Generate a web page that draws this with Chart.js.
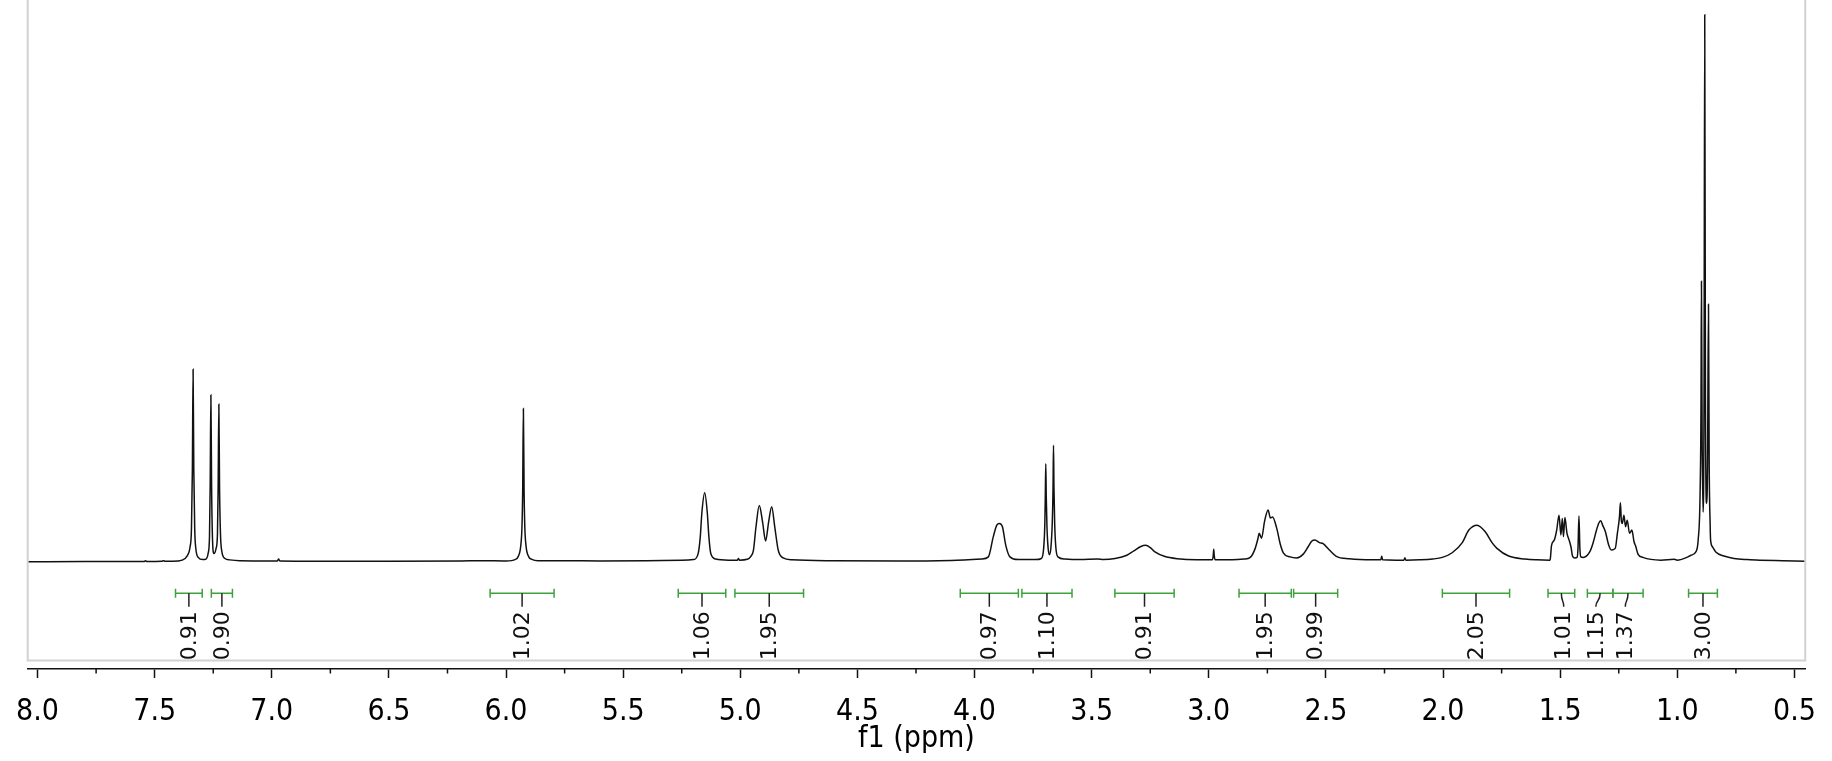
<!DOCTYPE html>
<html>
<head>
<meta charset="utf-8">
<script src="https://cdn.jsdelivr.net/npm/chart.js@4.4.1/dist/chart.umd.min.js"></script>
<style>
  html, body { margin: 0; padding: 0; background: #fff; }
  #wrap { width: 1832px; height: 761px; }
</style>
</head>
<body>
<div id="wrap"><canvas id="nmr" width="1832" height="761"></canvas></div>
<script>
// 1H spectrum: [shift (ppm), relative intensity]
const trace = [
  [8.042, 0.0], [7.80, 0.05], [7.60, 0.05], [7.545, 0.05], [7.539, 0.2], [7.533, 0.05],
  [7.47, 0.1], [7.462, 0.2], [7.455, 0.1], [7.40, 0.15],
  // 7.34 / 7.26 / 7.23
  [7.370, 0.6], [7.355, 1.6], [7.349, 2.7], [7.343, 6.0], [7.339, 17.0], [7.336, 35.2],
  [7.333, 17.0], [7.329, 6.0], [7.325, 2.7], [7.314, 0.8], [7.295, 0.4], [7.281, 0.5],
  [7.272, 1.5], [7.266, 4.5], [7.263, 14.0], [7.260, 30.5], [7.257, 14.0], [7.253, 4.0],
  [7.247, 1.5], [7.238, 2.4], [7.232, 5.0], [7.229, 13.5], [7.226, 28.8], [7.223, 13.5],
  [7.219, 5.0], [7.214, 2.1], [7.200, 0.6], [7.18, 0.35], [7.137, 0.2],
  [7.00, 0.15], [6.976, 0.15], [6.971, 0.5], [6.966, 0.15], [6.80, 0.1], [6.50, 0.1],
  [6.19, 0.15], [6.104, 0.2], [6.00, 0.15],
  // 5.93
  [5.960, 0.45], [5.949, 0.9], [5.937, 3.0], [5.932, 6.5], [5.929, 13.0], [5.926, 28.0],
  [5.923, 13.0], [5.920, 6.5], [5.915, 3.0], [5.903, 0.9], [5.890, 0.45], [5.864, 0.2],
  [5.75, 0.2], [5.60, 0.15], [5.40, 0.2], [5.25, 0.3],
  // 5.15
  [5.20, 0.4], [5.18, 1.5], [5.171, 4.5], [5.164, 9.0], [5.152, 12.6], [5.141, 9.0],
  [5.134, 4.5], [5.126, 1.5], [5.105, 0.5], [5.05, 0.3], [5.012, 0.3], [5.008, 0.6], [5.004, 0.3],
  // 4.92 / 4.87
  [4.97, 0.45], [4.955, 1.0], [4.944, 2.1], [4.933, 6.4], [4.919, 10.3], [4.905, 7.3],
  [4.892, 3.8], [4.879, 7.3], [4.866, 10.05], [4.853, 6.4], [4.838, 2.1], [4.817, 0.7],
  [4.78, 0.35], [4.60, 0.2], [4.30, 0.15], [4.10, 0.25],
  // 3.89
  [3.97, 0.5], [3.941, 0.9], [3.920, 4.6], [3.905, 6.7], [3.894, 7.0], [3.881, 6.4],
  [3.867, 3.05], [3.849, 0.9], [3.813, 0.4], [3.74, 0.4],
  // 3.70 / 3.66
  [3.715, 0.6], [3.705, 2.5], [3.700, 7.0], [3.698, 12.0], [3.696, 17.9], [3.694, 12.0],
  [3.691, 6.5], [3.686, 2.5], [3.680, 1.3], [3.674, 2.6], [3.668, 7.5], [3.665, 13.5],
  [3.663, 21.3], [3.661, 13.5], [3.658, 7.0], [3.653, 2.6], [3.644, 0.9], [3.615, 0.5],
  [3.55, 0.4], [3.474, 0.5], [3.45, 0.4],
  // 3.27 broad
  [3.40, 0.6], [3.35, 1.2], [3.32, 2.0], [3.29, 2.8], [3.27, 3.0], [3.25, 2.6], [3.23, 1.8],
  [3.19, 1.0], [3.135, 0.55], [3.05, 0.35],
  [2.985, 0.35], [2.981, 1.2], [2.979, 2.3], [2.977, 1.2], [2.973, 0.35], [2.90, 0.35],
  // 2.75 multiplet, 2.55
  [2.85, 0.5], [2.823, 0.8], [2.802, 2.45], [2.790, 4.3], [2.785, 5.2], [2.775, 4.3],
  [2.762, 7.4], [2.747, 9.45], [2.737, 8.0], [2.728, 8.2], [2.710, 6.1], [2.696, 3.4],
  [2.682, 1.65], [2.653, 0.9], [2.625, 0.7], [2.597, 1.4], [2.576, 2.75], [2.560, 3.8],
  [2.547, 4.0], [2.528, 3.5], [2.512, 3.3], [2.484, 2.1], [2.456, 1.0], [2.40, 0.55],
  [2.30, 0.35], [2.266, 0.35], [2.262, 1.0], [2.258, 0.35], [2.20, 0.3],
  [2.167, 0.3], [2.163, 0.75], [2.159, 0.3], [2.10, 0.35],
  // 1.86 broad
  [2.045, 0.5], [2.003, 0.8], [1.961, 1.65], [1.918, 3.5], [1.890, 5.8], [1.855, 6.7],
  [1.820, 5.5], [1.791, 3.5], [1.770, 2.45], [1.720, 1.05], [1.650, 0.5], [1.60, 0.35],
  // 1.50 multiplet, 1.42
  [1.544, 0.3], [1.542, 0.6], [1.537, 3.0], [1.525, 4.0], [1.515, 5.8], [1.505, 8.5],
  [1.497, 4.9], [1.491, 7.9], [1.486, 4.6], [1.480, 8.1], [1.471, 5.2], [1.463, 4.1],
  [1.454, 2.7], [1.447, 1.0], [1.437, 0.7], [1.428, 0.8], [1.424, 2.5], [1.420, 8.35],
  [1.416, 2.5], [1.412, 0.9], [1.402, 0.8],
  // 1.33 and 1.24 multiplets
  [1.374, 1.8], [1.360, 3.4], [1.345, 5.8], [1.336, 7.0], [1.327, 7.5], [1.319, 6.7],
  [1.307, 5.5], [1.293, 3.05], [1.282, 2.15], [1.265, 2.45], [1.256, 5.2], [1.247, 8.2],
  [1.243, 10.8], [1.239, 7.5], [1.235, 7.0], [1.228, 8.5], [1.221, 6.4], [1.214, 7.6],
  [1.204, 5.2], [1.194, 5.8], [1.185, 3.7], [1.177, 2.75], [1.168, 1.4], [1.147, 0.8],
  [1.07, 0.3], [1.013, 0.45], [1.00, 0.3], [0.96, 0.8], [0.942, 1.2], [0.921, 1.8],
  // 0.88 triplet
  [0.911, 4.0], [0.903, 12.0], [0.899, 28.0], [0.897, 51.3], [0.894, 22.0], [0.890, 9.1],
  [0.886, 30.0], [0.883, 100.0], [0.880, 30.0], [0.875, 10.7], [0.871, 18.0], [0.867, 47.1],
  [0.864, 18.0], [0.860, 7.0], [0.858, 4.0], [0.850, 2.75], [0.836, 1.8], [0.801, 1.05],
  [0.758, 0.6], [0.70, 0.4], [0.645, 0.3], [0.55, 0.2], [0.454, 0.1]
];

// integrals: region limits (ppm), printed value, where the label sits
const integralFrom  = [7.411, 7.258, 6.068, 5.265, 5.023, 4.061, 3.798, 3.401, 2.871, 2.638, 2.003, 1.552, 1.384, 1.275, 0.952];
const integralTo    = [7.297, 7.168, 5.795, 5.062, 4.730, 3.813, 3.584, 3.148, 2.648, 2.450, 1.716, 1.438, 1.275, 1.146, 0.829];
const integralValue = ['0.91', '0.90', '1.02', '1.06', '1.95', '0.97', '1.10', '0.91', '1.95', '0.99', '2.05', '1.01', '1.15', '1.37', '3.00'];
const integralLabelAt = [7.354, 7.213, 5.931, 5.163, 4.876, 3.937, 3.691, 3.274, 2.759, 2.544, 1.859, 1.485, 1.348, 1.222, 0.890];

const tickValues = [8.0, 7.5, 7.0, 6.5, 6.0, 5.5, 5.0, 4.5, 4.0, 3.5, 3.0, 2.5, 2.0, 1.5, 1.0, 0.5];

const axisFont = "'DejaVu Sans Condensed', 'DejaVu Sans', sans-serif";

const framePlugin = {
  id: 'frame',
  afterDraw(chart) {
    const { ctx, chartArea, scales } = chart;
    const x = scales.x, y = scales.y;
    const frameBottom = chartArea.bottom - 8.5;

    // light grey box round the spectrum
    ctx.save();
    ctx.strokeStyle = '#d2d2d2';
    ctx.lineWidth = 2;
    ctx.beginPath();
    ctx.moveTo(chartArea.left, 0);
    ctx.lineTo(chartArea.left, frameBottom);
    ctx.lineTo(chartArea.right, frameBottom);
    ctx.lineTo(chartArea.right, 0);
    ctx.stroke();

    // minor ticks half way between the labelled ones
    ctx.strokeStyle = '#111';
    ctx.lineWidth = 1.5;
    for (let i = 0; i < tickValues.length - 1; i++) {
      const px = x.getPixelForValue((tickValues[i] + tickValues[i + 1]) / 2);
      ctx.beginPath();
      ctx.moveTo(px, chartArea.bottom);
      ctx.lineTo(px, chartArea.bottom + 4.5);
      ctx.stroke();
    }
    ctx.restore();

    // integral bars, stems and rotated values
    const base = y.getPixelForValue(0);
    const barY = base + 31.5;
    const stemEnd = base + 45;
    const textTop = base + 49.5;
    ctx.save();
    ctx.beginPath();
    ctx.rect(chartArea.left, 0, chartArea.right - chartArea.left, frameBottom - 1);
    ctx.clip();
    integralFrom.forEach((from, i) => {
      const x1 = x.getPixelForValue(from);
      const x2 = x.getPixelForValue(integralTo[i]);
      const cx = (x1 + x2) / 2;
      const lx = x.getPixelForValue(integralLabelAt[i]);

      ctx.strokeStyle = '#3ca33c';
      ctx.lineWidth = 1.5;
      ctx.beginPath();
      ctx.moveTo(x1, barY); ctx.lineTo(x2, barY);
      ctx.moveTo(x1, barY - 4.5); ctx.lineTo(x1, barY + 4.5);
      ctx.moveTo(x2, barY - 4.5); ctx.lineTo(x2, barY + 4.5);
      ctx.stroke();

      ctx.strokeStyle = '#222';
      ctx.beginPath();
      ctx.moveTo(cx, barY);
      if (Math.abs(cx - lx) < 1.5) {
        ctx.lineTo(cx, stemEnd);
      } else {
        ctx.bezierCurveTo(cx, barY + 9, lx, stemEnd - 7, lx, stemEnd);
      }
      ctx.stroke();

      ctx.save();
      ctx.translate(lx, textTop);
      ctx.rotate(-Math.PI / 2);
      ctx.fillStyle = '#111';
      ctx.font = "22px 'DejaVu Sans', sans-serif";
      ctx.textAlign = 'right';
      ctx.textBaseline = 'middle';
      ctx.fillText(integralValue[i], 0, 1);
      ctx.restore();
    });
    ctx.restore();
  }
};

new Chart(document.getElementById('nmr'), {
  type: 'line',
  data: {
    datasets: [{
      data: trace.map(p => ({ x: p[0], y: p[1] })),
      borderColor: '#111',
      borderWidth: 1.5,
      pointRadius: 0,
      fill: false,
      cubicInterpolationMode: 'monotone'
    }]
  },
  options: {
    responsive: false,
    animation: false,
    events: [],
    layout: { padding: { left: 26.7, right: 16, top: 0, bottom: 0 } },
    plugins: { legend: { display: false }, tooltip: { enabled: false } },
    scales: {
      x: {
        type: 'linear',
        reverse: true,
        min: 0.454,
        max: 8.042,
        afterBuildTicks: s => { s.ticks = tickValues.map(v => ({ value: v })); },
        afterFit: s => { s.height = 92; },
        ticks: {
          autoSkip: false,
          maxRotation: 0,
          padding: 16,
          color: '#000',
          font: { family: axisFont, size: 30 },
          callback: v => Number(v).toFixed(1)
        },
        grid: {
          display: true,
          drawOnChartArea: false,
          drawTicks: true,
          tickLength: 9,
          tickWidth: 1.5,
          tickColor: '#111'
        },
        border: { display: true, color: '#111', width: 1.5 },
        title: {
          display: true,
          text: 'f1 (ppm)',
          color: '#000',
          font: { family: axisFont, size: 30 },
          padding: { top: 0, bottom: 4 }
        }
      },
      y: {
        display: false,
        min: -19.6,
        max: 102.7
      }
    }
  },
  plugins: [framePlugin]
});
</script>
</body>
</html>
